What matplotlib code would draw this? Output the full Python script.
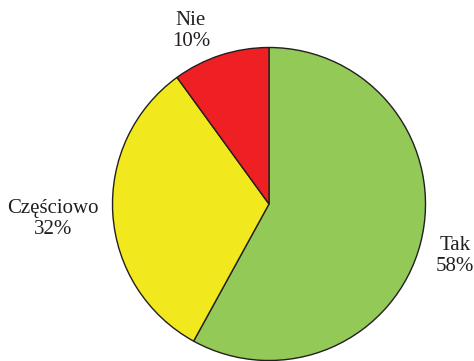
import matplotlib
matplotlib.use("Agg")
import matplotlib.pyplot as plt

labels = ["Tak", "Częściowo", "Nie"]
values = [58, 32, 10]
colors = ["#92C957", "#F2E81E", "#EE2024"]

# label anchor points in pixel coords (x, y from top)
label_pos = [(455, 256), (53, 219), (191, 31)]

W, H = 474, 361
fig = plt.figure(figsize=(W / 100, H / 100), dpi=100)
ax = fig.add_axes([0, 0, 1, 1])

cx, cy, r = 269, H - 204, 156.5
ax.pie(values, colors=colors, startangle=90, counterclock=False,
       center=(cx, cy), radius=r, frame=True,
       wedgeprops=dict(edgecolor="#231F20", linewidth=1.0))
ax.set_xlim(0, W)
ax.set_ylim(0, H)
ax.set_aspect("equal")
ax.axis("off")

for lab, v, (x, y) in zip(labels, values, label_pos):
    ax.text(x, H - y, f"{lab}\n{v}%", ha="center", va="center",
            family="Liberation Serif", fontsize=15, color="#231F20",
            linespacing=1.2)

fig.savefig("out.png", dpi=100)
